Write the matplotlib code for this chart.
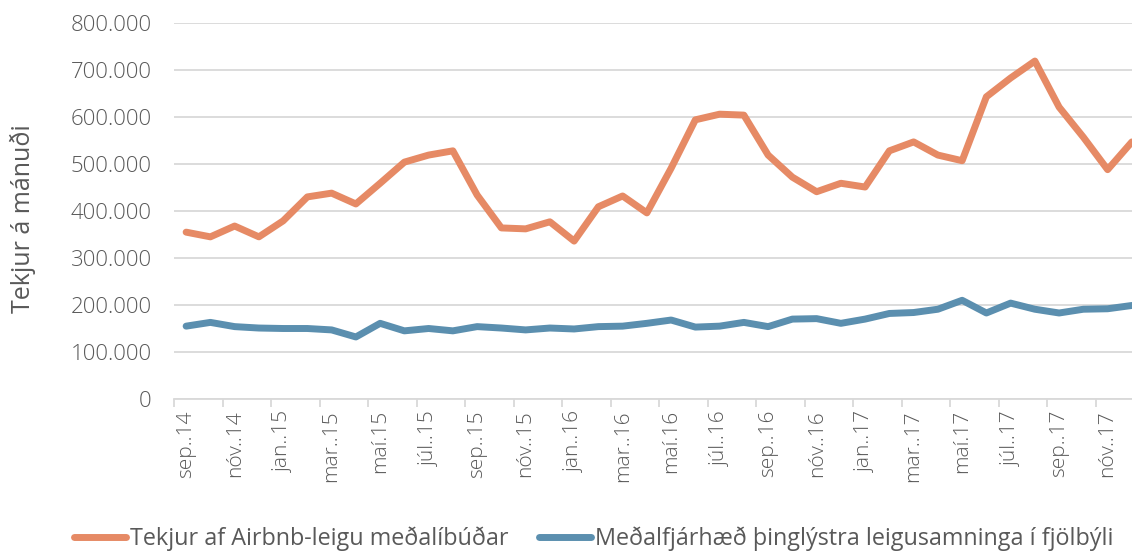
import numpy as np
import matplotlib
matplotlib.use('Agg')
import matplotlib.pyplot as plt
from matplotlib.ticker import FuncFormatter, MultipleLocator

plt.rcParams['font.family'] = ['Open Sans', 'DejaVu Sans']

# manudir fra sep. 2014 til des. 2017
months = ['sep..14', 'okt..14', 'nóv..14', 'des..14',
          'jan..15', 'feb..15', 'mar..15', 'apr..15', 'maí.15', 'jún..15', 'júl..15', 'ágú..15',
          'sep..15', 'okt..15', 'nóv..15', 'des..15',
          'jan..16', 'feb..16', 'mar..16', 'apr..16', 'maí.16', 'jún..16', 'júl..16', 'ágú..16',
          'sep..16', 'okt..16', 'nóv..16', 'des..16',
          'jan..17', 'feb..17', 'mar..17', 'apr..17', 'maí.17', 'jún..17', 'júl..17', 'ágú..17',
          'sep..17', 'okt..17', 'nóv..17', 'des..17']

airbnb = [355000, 345000, 368000, 345000, 379000, 430000, 438000, 415000, 459000, 504000,
          519000, 528000, 434000, 364000, 362000, 377000, 336000, 409000, 432000, 396000,
          491000, 594000, 606000, 604000, 519000, 472000, 441000, 459000, 451000, 528000,
          547000, 519000, 507000, 643000, 683000, 719000, 621000, 557000, 488000, 547000]

leiga = [155000, 163000, 154000, 151000, 150000, 150000, 147000, 132000, 161000, 145000,
         150000, 145000, 154000, 151000, 147000, 151000, 149000, 154000, 155000, 161000,
         168000, 153000, 155000, 163000, 154000, 170000, 171000, 161000, 170000, 182000,
         184000, 191000, 210000, 183000, 204000, 191000, 183000, 191000, 192000, 199000]

label_airbnb = 'Tekjur af Airbnb-leigu meðalíbúðar'
label_leiga = 'Meðalfjárhæð þinglýstra leigusamninga í fjölbýli'

orange = '#E68A65'
blue = '#5B8FAF'
text_c = '#595959'
grid_c = '#D9D9D9'

W, H = 1132, 552
fig = plt.figure(figsize=(W / 100, H / 100), dpi=100)
ax = fig.add_axes([174 / W, 153 / H, 970 / W, 376 / H])

x = np.arange(len(months))
ax.plot(x, airbnb, color=orange, lw=5, solid_capstyle='round', solid_joinstyle='round', label=label_airbnb)
ax.plot(x, leiga, color=blue, lw=5, solid_capstyle='round', solid_joinstyle='round', label=label_leiga)

ax.set_xlim(-0.5, len(months) - 0.5)
ax.set_ylim(0, 800000)
ax.yaxis.set_major_locator(MultipleLocator(100000))
ax.yaxis.set_major_formatter(FuncFormatter(lambda v, p: f'{int(v):,}'.replace(',', '.')))
ax.grid(axis='y', color=grid_c, lw=1.3)
ax.set_axisbelow(True)

# merki a milli flokka, annar hver manudur
ax.set_xticks(x[::2])
ax.set_xticklabels(months[::2], rotation=90)
ax.set_xticks(np.arange(-0.5, len(months), 2), minor=True)
ax.tick_params(axis='x', which='major', length=0, pad=8, labelsize=15, labelcolor=text_c)
ax.tick_params(axis='x', which='minor', length=6, width=1.3, color=grid_c)
ax.tick_params(axis='y', length=0, pad=16, labelsize=16, labelcolor=text_c)

for s in ['top', 'right', 'left']:
    ax.spines[s].set_visible(False)
ax.spines['bottom'].set_color(grid_c)
ax.spines['bottom'].set_linewidth(1.3)

ax.set_ylabel('Tekjur á mánuði', fontsize=18, color=text_c)
ax.yaxis.set_label_coords(-138 / 970, 0.48)

for t in ax.get_xticklabels() + ax.get_yticklabels():
    t.set_fontweight('light')

fig.legend(loc='center', bbox_to_anchor=(594 / W, 1 - 539 / H), ncol=2, frameon=False,
           fontsize=16.8, handlelength=2.2, handletextpad=0.2, columnspacing=1.3,
           labelcolor=text_c)

fig.savefig('out.png', dpi=100)
